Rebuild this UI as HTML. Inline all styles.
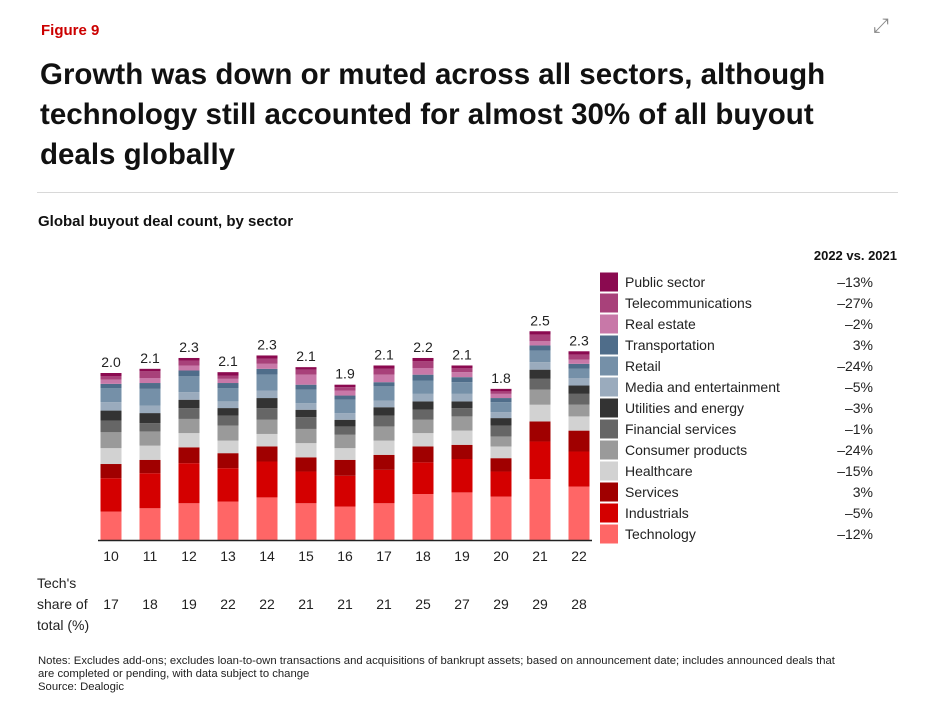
<!DOCTYPE html>
<html><head><meta charset="utf-8"><style>
body{margin:0;background:#fff;width:936px;height:719px;overflow:hidden;font-family:"Liberation Sans",Arial,sans-serif;}
.abs{position:absolute;}
</style></head><body>
<div class="abs" style="left:41px;top:22px;color:#cc0000;font-weight:bold;font-size:15px;">Figure 9</div>
<div class="abs" style="left:873px;top:15px;color:#888;font-size:20px;">⤢</div>
<div class="abs" style="left:40px;top:55px;width:820px;font-size:29.5px;font-weight:bold;line-height:40px;color:#111;">Growth was down or muted across all sectors, although technology still accounted for almost 30% of all buyout deals globally</div>
<div class="abs" style="left:37px;top:192px;width:861px;height:1px;background:#d8d8d8;"></div>
<div class="abs" style="left:38px;top:213px;font-size:15px;font-weight:bold;color:#111;">Global buyout deal count, by sector</div>
<svg class="abs" style="left:0;top:0" width="936" height="719" id="chart"></svg>
<div class="abs" style="left:38px;top:655px;width:890px;font-size:11.3px;line-height:13px;color:#222;white-space:nowrap;">Notes: Excludes add-ons; excludes loan-to-own transactions and acquisitions of bankrupt assets; based on announcement date; includes announced deals that<br>are completed or pending, with data subject to change<br>Source: Dealogic</div>
<script>
const years=["10","11","12","13","14","15","16","17","18","19","20","21","22"];
const totals=["2.0","2.1","2.3","2.1","2.3","2.1","1.9","2.1","2.2","2.1","1.8","2.5","2.3"];
const techShare=[17,18,19,22,22,21,21,21,25,27,29,29,28];
const sectors=["Technology","Industrials","Services","Healthcare","Consumer products","Financial services","Utilities and energy","Media and entertainment","Retail","Transportation","Real estate","Telecommunications","Public sector"];
const changes=["–12%","–5%","3%","–15%","–24%","–1%","–3%","–5%","–24%","3%","–2%","–27%","–13%"];
const technology=[.34,.38,.44,.46,.51,.44,.40,.44,.55,.57,.52,.73,.64];
const industrials=[.40,.42,.48,.40,.43,.38,.37,.40,.38,.40,.30,.45,.42];
const services=[.17,.16,.19,.18,.18,.17,.19,.18,.19,.17,.16,.24,.25];
const healthcare=[.19,.17,.17,.15,.15,.17,.14,.17,.16,.17,.14,.20,.17];
const consumer=[.19,.17,.17,.18,.17,.17,.16,.17,.16,.17,.12,.18,.14];
const financial=[.14,.10,.13,.12,.14,.14,.10,.13,.12,.10,.13,.13,.13];
const utilities=[.12,.12,.10,.09,.12,.09,.08,.10,.10,.08,.09,.11,.10];
const media=[.10,.09,.09,.08,.09,.08,.08,.08,.09,.09,.07,.09,.09];
const retail=[.17,.20,.19,.16,.19,.16,.16,.17,.16,.14,.12,.14,.11];
const transportation=[.05,.07,.07,.06,.07,.06,.05,.05,.07,.06,.05,.06,.06];
const realEstate=[.05,.06,.06,.05,.06,.12,.06,.09,.08,.06,.05,.05,.05];
const telecom=[.04,.08,.06,.04,.06,.06,.04,.07,.08,.05,.03,.08,.06];
const publicSector=[.04,.03,.03,.04,.04,.03,.03,.04,.04,.03,.03,.04,.04];
const series=[technology,industrials,services,healthcare,consumer,financial,utilities,media,retail,transportation,realEstate,telecom,publicSector];
const colors=["#ff6666","#d40000","#a00000","#d2d2d2","#9a9a9a","#666666","#333333","#9aabbd","#7590a8","#4f6d8a","#c878a8","#a8417a","#8b0a50"];
const NS="http://www.w3.org/2000/svg";
const svg=document.getElementById('chart');
const base=540, ppu=83.5, x0=111, step=39.0, bw=21;
const xs=i=>x0+i*step, ys=v=>v*ppu;
function mk(t,a){const e=document.createElementNS(NS,t);for(const k in a)e.setAttribute(k,a[k]);svg.appendChild(e);return e;}
years.forEach((yr,i)=>{
  let y=base;
  series.forEach((s,j)=>{
    const h=ys(s[i]); y-=h;
    const r=mk('rect',{x:xs(i)-bw/2,y:y,width:bw,height:h,fill:colors[j]});
    
    
  });
  const t=mk('text',{x:xs(i),y:y-6,'text-anchor':'middle','font-size':14,fill:'#222'});t.textContent=totals[i];
  
  
  const yl=mk('text',{x:xs(i),y:561,'text-anchor':'middle','font-size':14,fill:'#222'});yl.textContent=yr;
  
  
  const ts=mk('text',{x:xs(i),y:609,'text-anchor':'middle','font-size':14,fill:'#222'});ts.textContent=techShare[i];
  
  
});
const ax=mk('line',{x1:98,x2:592,y1:base+0.5,y2:base+0.5,stroke:'#222','stroke-width':1.5});


["Tech's","share of","total (%)"].forEach((s,k)=>{const t=mk('text',{x:37,y:588+k*21,'font-size':14,fill:'#222'});t.textContent=s;
  
  });
const hd=mk('text',{x:897,y:260,'text-anchor':'end','font-size':13,'font-weight':'bold',fill:'#111'});hd.textContent="2022 vs. 2021";


for(let j=12;j>=0;j--){
  const row=12-j, cy=282+row*21;
  const r=mk('rect',{x:600,y:cy-9.5,width:18,height:19,fill:colors[j]});
  
  
  const t=mk('text',{x:625,y:cy+5,'font-size':14,fill:'#222'});t.textContent=sectors[j];
  
  
  const c=mk('text',{x:873,y:cy+5,'text-anchor':'end','font-size':14,fill:'#222'});c.textContent=changes[j];
  
  
}
</script>
</body></html>
